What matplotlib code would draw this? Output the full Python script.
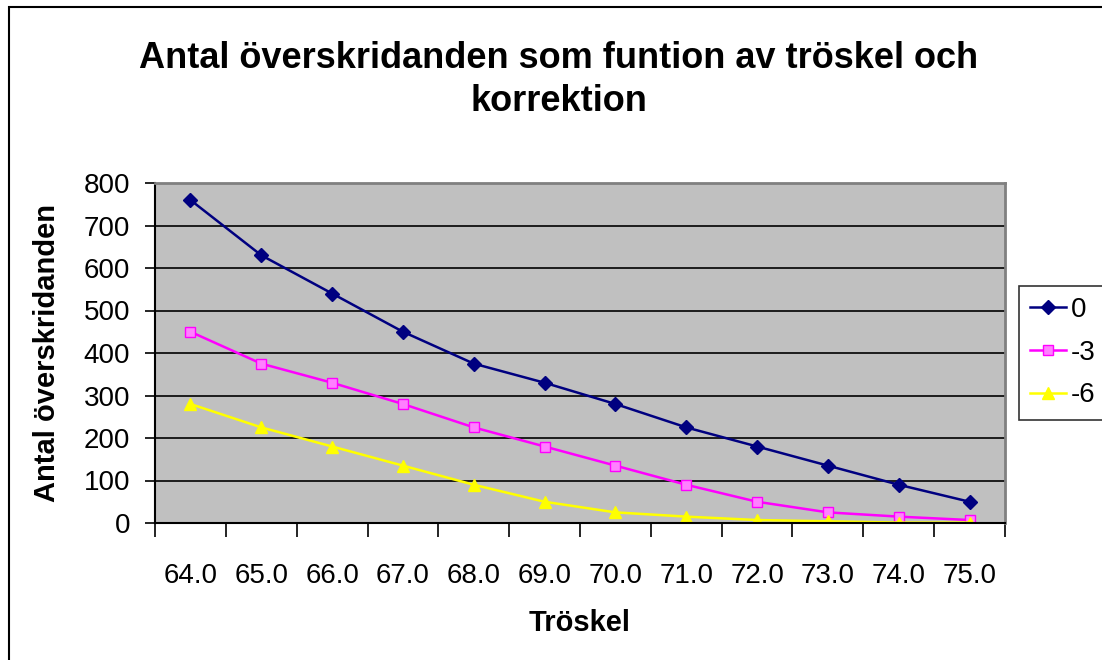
import numpy as np
import matplotlib.pyplot as plt
from matplotlib.patches import Rectangle

plt.rcParams['font.family'] = ['Liberation Sans', 'DejaVu Sans']

# threshold categories and counts per correction
troskel = ['64.0', '65.0', '66.0', '67.0', '68.0', '69.0',
           '70.0', '71.0', '72.0', '73.0', '74.0', '75.0']
korr_0 = [760, 630, 540, 450, 375, 330, 280, 225, 180, 135, 90, 50]
korr_3 = [450, 375, 330, 280, 225, 180, 135, 90, 50, 25, 15, 7]
korr_6 = [280, 225, 180, 135, 90, 50, 25, 15, 7, 4, 1, 1]

fig = plt.figure(figsize=(11.02, 6.6), dpi=100)
# outer chart frame (cut off at right and bottom like the screenshot)
fig.patches.append(Rectangle((9 / 1102, -0.1), 1.2, 1 - 7 / 660 + 0.1,
                             transform=fig.transFigure, fill=False,
                             edgecolor='black', linewidth=1.5))

ax = fig.add_axes([155 / 1102, 1 - 523 / 660, 850 / 1102, 340 / 660])
ax.set_facecolor('#c0c0c0')

x = np.arange(len(troskel))
ax.plot(x, korr_0, color='#000080', marker='D', markersize=7, linewidth=1.8, label='0')
ax.plot(x, korr_3, color='#ff00ff', marker='s', markersize=7, markerfacecolor='#ff80ff',
        linewidth=1.8, label='-3')
ax.plot(x, korr_6, color='#ffff00', marker='^', markersize=8, linewidth=1.8, label='-6')

ax.set_xlim(-0.5, len(troskel) - 0.5)
ax.set_ylim(0, 800)
ax.set_yticks(np.arange(0, 801, 100))
ax.yaxis.grid(True, color='black', linewidth=1.2)
ax.set_axisbelow(True)

# category ticks between points, labels under points
ax.set_xticks(np.arange(-0.5, len(troskel), 1))
ax.set_xticklabels([])
ax.set_xticks(x, minor=True)
ax.set_xticklabels(troskel, minor=True)
ax.tick_params(axis='x', which='major', length=10, width=1.2, direction='out')
ax.tick_params(axis='x', which='minor', length=0, pad=29, labelsize=20)
ax.tick_params(axis='y', length=7, width=1.2, labelsize=20, pad=11)

for s in ['top', 'right']:
    ax.spines[s].set_color('#808080')
    ax.spines[s].set_linewidth(2)
for s in ['left', 'bottom']:
    ax.spines[s].set_linewidth(1.5)

ax.set_xlabel('Tröskel', fontsize=21, fontweight='bold', labelpad=14)
ax.set_ylabel('Antal överskridanden', fontsize=21, fontweight='bold', labelpad=16)

fig.text(0.507, 1 - 80 / 660, 'Antal överskridanden som funtion av tröskel och\nkorrektion',
         ha='center', va='center', fontsize=26, fontweight='bold', linespacing=1.3)

leg = fig.legend(loc='upper left', bbox_to_anchor=(1019 / 1102, 1 - 286 / 660),
                 fontsize=20, frameon=True, fancybox=False, edgecolor='black',
                 handlelength=1.3, handletextpad=0.15, labelspacing=0.6,
                 borderpad=0.4, borderaxespad=0)
leg.get_frame().set_linewidth(1.2)

plt.savefig('out.png', dpi=100)
